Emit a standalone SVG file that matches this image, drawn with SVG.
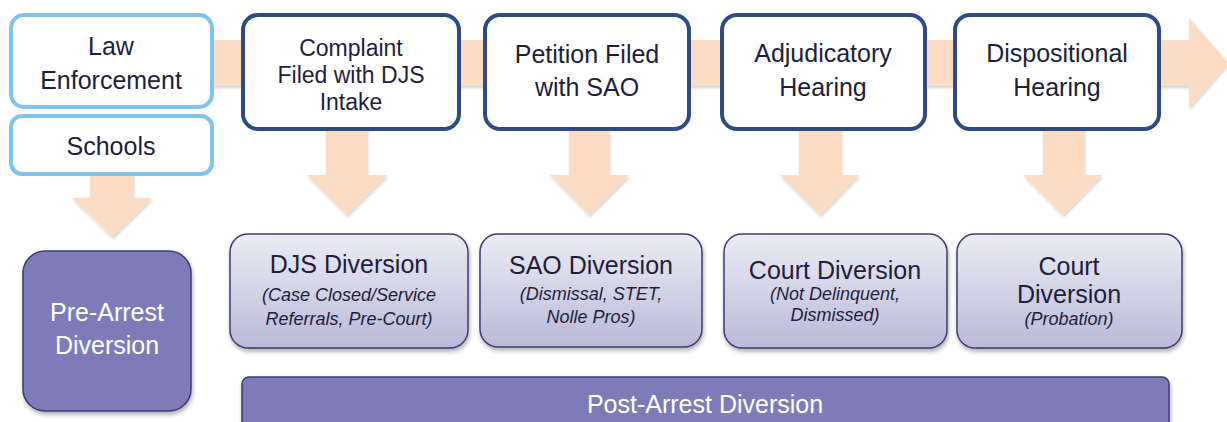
<svg xmlns="http://www.w3.org/2000/svg" width="1227" height="422" viewBox="0 0 1227 422">
<defs>
<linearGradient id="lav" x1="0" y1="0" x2="0" y2="1">
<stop offset="0" stop-color="#ECECF5"/>
<stop offset="1" stop-color="#BAB9D8"/>
</linearGradient>
<filter id="sh" x="-10%" y="-10%" width="120%" height="130%">
<feDropShadow dx="1" dy="3" stdDeviation="2" flood-color="#000" flood-opacity="0.3"/>
</filter>
<filter id="ash" x="-10%" y="-10%" width="120%" height="130%">
<feDropShadow dx="1" dy="2" stdDeviation="1.5" flood-color="#000" flood-opacity="0.18"/>
</filter>
<style>
.t{font-family:"Liberation Sans",Arial,sans-serif;fill:#1E1E3C;text-anchor:middle;font-size:25px}
.w{font-family:"Liberation Sans",Arial,sans-serif;fill:#FFFFFF;text-anchor:middle;font-size:25px}
.i{font-family:"Liberation Sans",Arial,sans-serif;fill:#1E1E3C;text-anchor:middle;font-style:italic;font-size:18px}
.lb{fill:#FFFFFF;stroke:#7EC4EF;stroke-width:4}
.db{fill:#FFFFFF;stroke:#2F4B7F;stroke-width:4}
.lv{fill:url(#lav);stroke:#3D3B72;stroke-width:1.5;filter:url(#sh)}
.pp{fill:#7E7CB8;stroke:#3D3B72;stroke-width:1.5;filter:url(#sh)}
.ar{fill:#FCDCC3;filter:url(#ash)}
</style>
</defs>
<g id="connectors">
<path class="ar" d="M30,40 L1189,40 L1189,18 L1228,63 L1189,108 L1189,86 L30,86 Z"/>
<path class="ar" d="M90,170 L133,170 L133,198 L152,198 L112,237 L72,198 L90,198 Z"/>
<path class="ar" d="M326,125 L367,125 L367,175 L387,175 L347,215 L307,175 L326,175 Z"/>
<path class="ar" d="M569,125 L609,125 L609,175 L629,175 L589,215 L550,175 L569,175 Z"/>
<path class="ar" d="M799,125 L841,125 L841,175 L859,175 L820,215 L780,175 L799,175 Z"/>
<path class="ar" d="M1043,125 L1084,125 L1084,175 L1102,175 L1063,215 L1023,175 L1043,175 Z"/>
</g>
<g id="law-enforcement">
<rect class="lb" x="11" y="15" width="201" height="92" rx="13"/>
<text class="t" x="111" y="55">Law</text>
<text class="t" x="111" y="89">Enforcement</text>
</g>
<g id="schools">
<rect class="lb" x="11" y="116" width="201" height="58" rx="11"/>
<text class="t" x="111" y="155">Schools</text>
</g>
<g id="complaint">
<rect class="db" x="243" y="15" width="216" height="114" rx="15"/>
<text class="t" x="351" y="56" font-size="23" style="font-size:23px">Complaint</text>
<text class="t" x="351" y="83" style="font-size:23px">Filed with DJS</text>
<text class="t" x="351" y="110" style="font-size:23px">Intake</text>
</g>
<g id="petition">
<rect class="db" x="485" y="15" width="204" height="114" rx="15"/>
<text class="t" x="587" y="63">Petition Filed</text>
<text class="t" x="587" y="96">with SAO</text>
</g>
<g id="adjudicatory">
<rect class="db" x="722" y="15" width="203" height="114" rx="15"/>
<text class="t" x="823" y="62">Adjudicatory</text>
<text class="t" x="823" y="96">Hearing</text>
</g>
<g id="dispositional">
<rect class="db" x="955" y="15" width="204" height="114" rx="15"/>
<text class="t" x="1057" y="62">Dispositional</text>
<text class="t" x="1057" y="96">Hearing</text>
</g>
<g id="pre-arrest">
<rect class="pp" x="23" y="251" width="168" height="160" rx="22"/>
<text class="w" x="107" y="321">Pre-Arrest</text>
<text class="w" x="107" y="354">Diversion</text>
</g>
<g id="djs-diversion">
<rect class="lv" x="230" y="234" width="238" height="114" rx="18"/>
<text class="t" x="349" y="273">DJS Diversion</text>
<text class="i" x="349" y="301">(Case Closed/Service</text>
<text class="i" x="349" y="325">Referrals, Pre-Court)</text>
</g>
<g id="sao-diversion">
<rect class="lv" x="480" y="234" width="222" height="113" rx="18"/>
<text class="t" x="591" y="274">SAO Diversion</text>
<text class="i" x="591" y="300">(Dismissal, STET,</text>
<text class="i" x="591" y="323">Nolle Pros)</text>
</g>
<g id="court-diversion-1">
<rect class="lv" x="724" y="234" width="223" height="114" rx="18"/>
<text class="t" x="835" y="279">Court Diversion</text>
<text class="i" x="835" y="300">(Not Delinquent,</text>
<text class="i" x="835" y="321">Dismissed)</text>
</g>
<g id="court-diversion-2">
<rect class="lv" x="957" y="234" width="225" height="114" rx="18"/>
<text class="t" x="1069" y="275">Court</text>
<text class="t" x="1069" y="303">Diversion</text>
<text class="i" x="1069" y="325">(Probation)</text>
</g>
<g id="post-arrest">
<rect class="pp" x="242" y="377" width="927" height="60" rx="7"/>
<text class="w" x="705" y="413">Post-Arrest Diversion</text>
</g>
</svg>
